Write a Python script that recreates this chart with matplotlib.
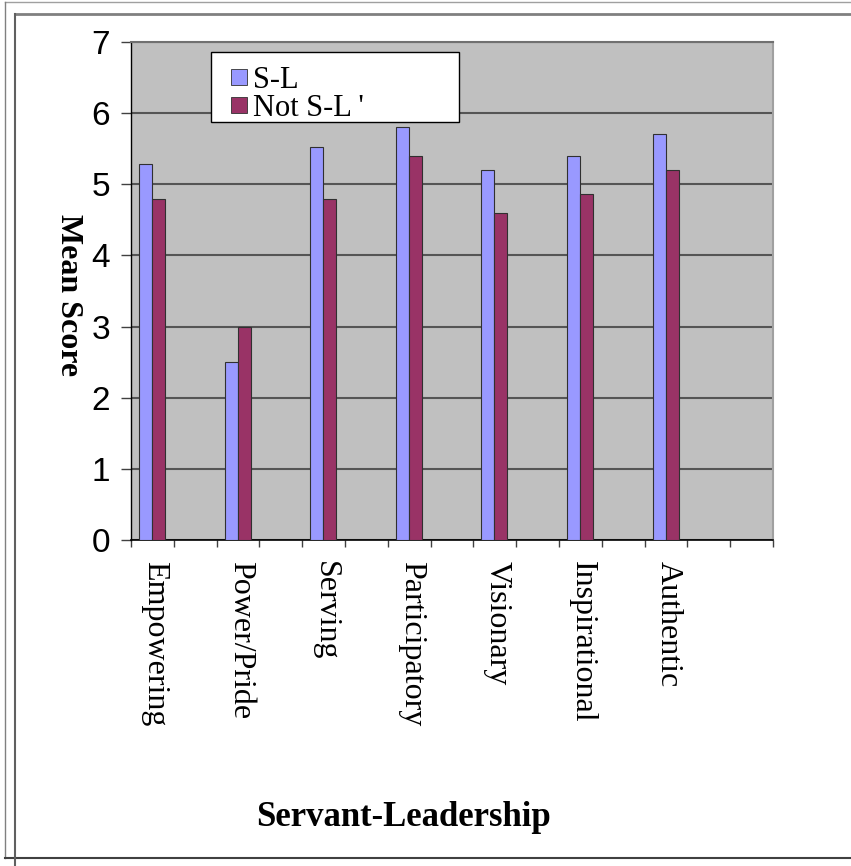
import matplotlib
matplotlib.use('Agg')
import matplotlib.pyplot as plt
from matplotlib.lines import Line2D
from matplotlib.patches import Rectangle
import numpy as np

# datos
categorias = ['Empowering', 'Power/Pride', 'Serving', 'Participatory',
              'Visionary', 'Inspirational', 'Authentic']
valores_sl = [5.28, 2.5, 5.52, 5.8, 5.2, 5.4, 5.7]
valores_no_sl = [4.8, 3.0, 4.8, 5.4, 4.6, 4.86, 5.2]
series = ['S-L', "Not S-L '"]

color_sl = '#9999FF'
color_no = '#993366'

W, H = 851, 866
fig = plt.figure(figsize=(W / 100, H / 100), dpi=100)
fig.patch.set_facecolor('white')

# marco exterior (lineas grises)
def linea(x0, y0, x1, y1, c='#808080', lw=1.2):
    fig.add_artist(Line2D([x0 / W, x1 / W], [1 - y0 / H, 1 - y1 / H],
                          color=c, lw=lw, transform=fig.transFigure))

linea(5, 2, W, 2, c='#a0a0a0', lw=1)
linea(5, 2, 5, 858, c='#808080', lw=1)
linea(5, 858, W, 858, c='#404040', lw=1.5)
linea(14.7, 14, W, 14, c='#808080', lw=2)
linea(14.7, 14, 14.7, H, c='#606060', lw=1.5)

# area del grafico
ax = fig.add_axes([131 / W, 1 - 540 / H, 642 / W, 498 / H])
ax.set_facecolor('#C0C0C0')

x = np.arange(len(categorias))
ancho = 0.152
ax.bar(x - ancho / 2, valores_sl, ancho, color=color_sl, edgecolor='#303030',
       linewidth=0.8, label=series[0], zorder=3)
ax.bar(x + ancho / 2, valores_no_sl, ancho, color=color_no, edgecolor='#303030',
       linewidth=0.8, label=series[1], zorder=3)

ax.set_xlim(-0.246, 7.254)
ax.set_ylim(0, 7)
ax.set_yticks(range(8))
ax.yaxis.grid(True, color='#555555', linewidth=1.5, zorder=1)
ax.set_axisbelow(True)

# ejes
ax.spines['left'].set_color('black')
ax.spines['bottom'].set_color('black')
ax.spines['left'].set_linewidth(1)
ax.spines['bottom'].set_linewidth(1.2)
ax.spines['top'].set_color('#707070')
ax.spines['right'].set_color('#a0a0a0')
ax.spines['top'].set_linewidth(1.5)
ax.spines['right'].set_linewidth(1.5)

# etiquetas del eje y
ax.tick_params(axis='y', direction='out', length=7, width=1, color='#404040', pad=8)
for t in ax.get_yticklabels():
    t.set_fontfamily('Liberation Sans')
    t.set_fontsize(24)

# etiquetas del eje x (rotadas)
ax.set_xticks(x + 0.03)
ax.set_xticklabels(categorias, rotation=-90, fontfamily='Liberation Serif',
                   fontsize=23, va='top', ha='center')
ax.tick_params(axis='x', which='major', length=0, pad=15)
ax.set_xticks(np.arange(-0.246, 7.3, 0.5), minor=True)
ax.tick_params(axis='x', which='minor', direction='out', length=5, width=1,
               color='#404040')

# leyenda (dibujada a mano en pixeles de la figura)
def caja(x0, y0, x1, y1, **kw):
    fig.add_artist(Rectangle((x0 / W, 1 - y1 / H), (x1 - x0) / W, (y1 - y0) / H,
                             transform=fig.transFigure, **kw))

caja(211, 52, 459, 122, facecolor='white', edgecolor='black', lw=1, zorder=5)
colores = [color_sl, color_no]
for i, nombre in enumerate(series):
    y0 = 69 + i * 28
    caja(231, y0, 247, y0 + 16, facecolor=colores[i], edgecolor='#303030',
         lw=0.6, zorder=6)
    fig.text(253 / W, 1 - (y0 + 8.5) / H, nombre, ha='left', va='center_baseline',
             fontfamily='Liberation Serif', fontsize=22, zorder=7)

# titulos de los ejes
fig.text(68 / W, 1 - 295 / H, 'Mean Score', rotation=-90, ha='center', va='center',
         fontfamily='Liberation Serif', fontweight='bold', fontsize=23)
fig.text(403 / W, 1 - 818 / H, 'Servant-Leadership', ha='center', va='center',
         fontfamily='Liberation Serif', fontweight='bold', fontsize=25)

plt.savefig('out.png', dpi=100)
